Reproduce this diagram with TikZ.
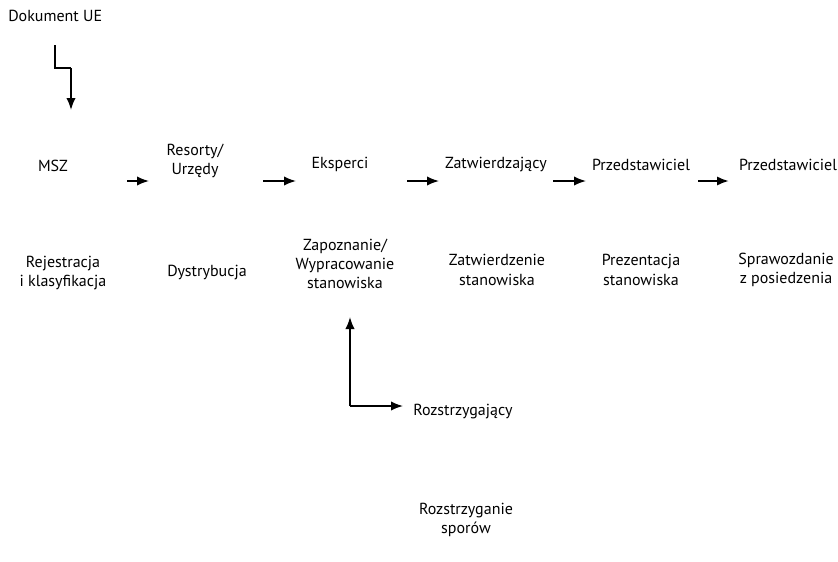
\documentclass[tikz,border=0pt]{standalone}
\usepackage{fontspec}
\setmainfont{PT Sans}
\usetikzlibrary{arrows.meta}
\begin{document}
\begin{tikzpicture}[x=0.75pt, y=-0.75pt,
  every node/.style={font=\fontsize{12}{14.5}\selectfont, align=center, inner sep=0pt},
  strz/.style={line width=1.2pt, -{Latex[length=9pt,width=7pt]}},
  linia/.style={line width=1pt}]
  \useasboundingbox (0,0) rectangle (838,561);
  % dokument wejsciowy
  \node[anchor=west] (dok) at (8,16) {Dokument UE};
  % gorny rzad: podmioty
  \node (msz) at (53,166) {MSZ};
  \node (res) at (195,161) {Resorty/\\Urzędy};
  \node (eks) at (340,164) {Eksperci};
  \node (zat) at (496,165) {Zatwierdzający};
  \node (prz1) at (641,165) {Przedstawiciel};
  \node (prz2) at (788,165) {Przedstawiciel};
  % dolny rzad: czynnosci
  \node (rej) at (63,273) {Rejestracja\\i klasyfikacja};
  \node (dys) at (207,273) {Dystrybucja};
  \node (zap) at (345,264) {Zapoznanie/\\Wypracowanie\\stanowiska};
  \node (zst) at (497,270) {Zatwierdzenie\\stanowiska};
  \node (pst) at (641,270) {Prezentacja\\stanowiska};
  \node (spr) at (786,270) {Sprawozdanie\\z posiedzenia};
  % spory
  \node[anchor=west] (roz) at (413,412) {Rozstrzygający};
  \node (spo) at (466,520) {Rozstrzyganie\\sporów};
  % strzalka z dokumentu do MSZ
  \coordinate (d1) at (55,45);
  \coordinate (d2) at (71,68);
  \coordinate (d3) at (71,110);
  \draw[linia] (d1) |- (d2);
  \draw[strz] (d2) -- (d3);
  % strzalki miedzy podmiotami
  \foreach \a/\b [count=\i] in {127/149, 263/296, 407/439, 553/586, 698/729}
  {
    \coordinate (p\i) at (\a,181);
    \coordinate (k\i) at (\b,181);
  }
  \foreach \i in {1,...,4}
    \draw[strz] (p\i) -- (k\i);
  \draw[strz, line width=1.7pt] (p5) -- (k5);
  % petla do rozstrzygajacego
  \coordinate (r0) at (350,406);
  \coordinate (r1) at (350,317);
  \coordinate (r2) at (403,406);
  \draw[strz] (r0) -- (r1);
  \draw[strz] (r0) -- (r2);
\end{tikzpicture}
\end{document}
